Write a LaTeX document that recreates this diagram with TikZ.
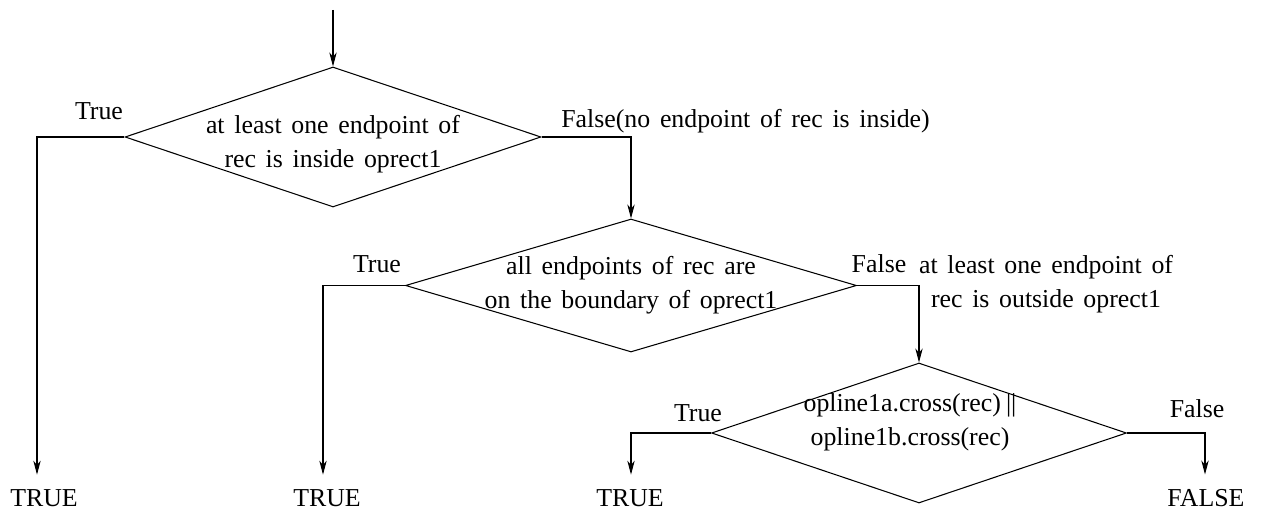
\documentclass[tikz,border=0pt]{standalone}
\usepackage{fontspec}
\setmainfont{Liberation Serif}[WordSpace={1.5,0,0}]
\usetikzlibrary{shapes.geometric,arrows.meta}
\begin{document}
\begin{tikzpicture}[x=0.2mm,y=-0.2mm]
\tikzset{
  txt/.style={font=\fontsize{14.7pt}{19.3pt}\selectfont, inner sep=0pt},
  decision/.style={draw, shape=diamond, inner sep=0pt, line width=0.6pt},
  flow/.style={line width=0.6pt, -{Stealth[length=8pt,width=4.2pt,inset=2.5pt]}},
  term/.style={txt, inner sep=8pt, anchor=base},
}
\useasboundingbox (0,0) rectangle (1263,512);

% decision diamonds
\node[decision, minimum width=83.2mm, minimum height=28mm] (dec1) at (333,137) {};
\node[decision, minimum width=90.2mm, minimum height=26.6mm] (dec2) at (631,285.5) {};
\node[decision, minimum width=83mm, minimum height=28mm] (dec3) at (919,433) {};

% conditions inside the diamonds
\node[txt, align=center] (q1) at (333,144) {at least one endpoint of\\rec is inside oprect1};
\node[txt, align=center] (q2) at (631,285) {all endpoints of rec are\\on the boundary of oprect1};
\node[txt, align=center] (q3) at (910,422.5) {opline1a.cross(rec)\hspace{0.2em}||\\opline1b.cross(rec)};

% branch labels
\node[txt, anchor=base] (l1t) at (99,120) {True};
\node[txt, anchor=base west] (l1f) at (561,128) {False(no endpoint of rec is inside)};
\node[txt, anchor=base] (l2t) at (377,273) {True};
\node[txt, anchor=base] (l2f) at (879,273) {False};
\node[txt, align=center] (note) at (1046,284) {at least one endpoint of\\rec is outside oprect1};
\node[txt, anchor=base] (l3t) at (698,422) {True};
\node[txt, anchor=base] (l3f) at (1197,417) {False};

% results
\node[term] (t1) at (44,506) {TRUE};
\node[term] (t2) at (327,506) {TRUE};
\node[term] (t3) at (630,506) {TRUE};
\node[term] (t4) at (1206,506) {FALSE};

% connectors
\coordinate (start) at (333,10);
\coordinate (b1) at (37,137);
\coordinate (b3) at (323,285.5);
\coordinate (b5) at (631,433);
\coordinate (b6) at (1205,433);

\draw[flow] (start) -- (dec1.north);
\draw[flow] (dec1.west) -- (b1) -- (b1 |- t1.north);
\draw[flow] (dec1.east) -| (dec2.north);
\draw[flow] (dec2.west) -- (b3) -- (b3 |- t2.north);
\draw[flow] (dec2.east) -| (dec3.north);
\draw[flow] (dec3.west) -- (b5) -- (b5 |- t3.north);
\draw[flow] (dec3.east) -- (b6) -- (b6 |- t4.north);
\end{tikzpicture}
\end{document}
